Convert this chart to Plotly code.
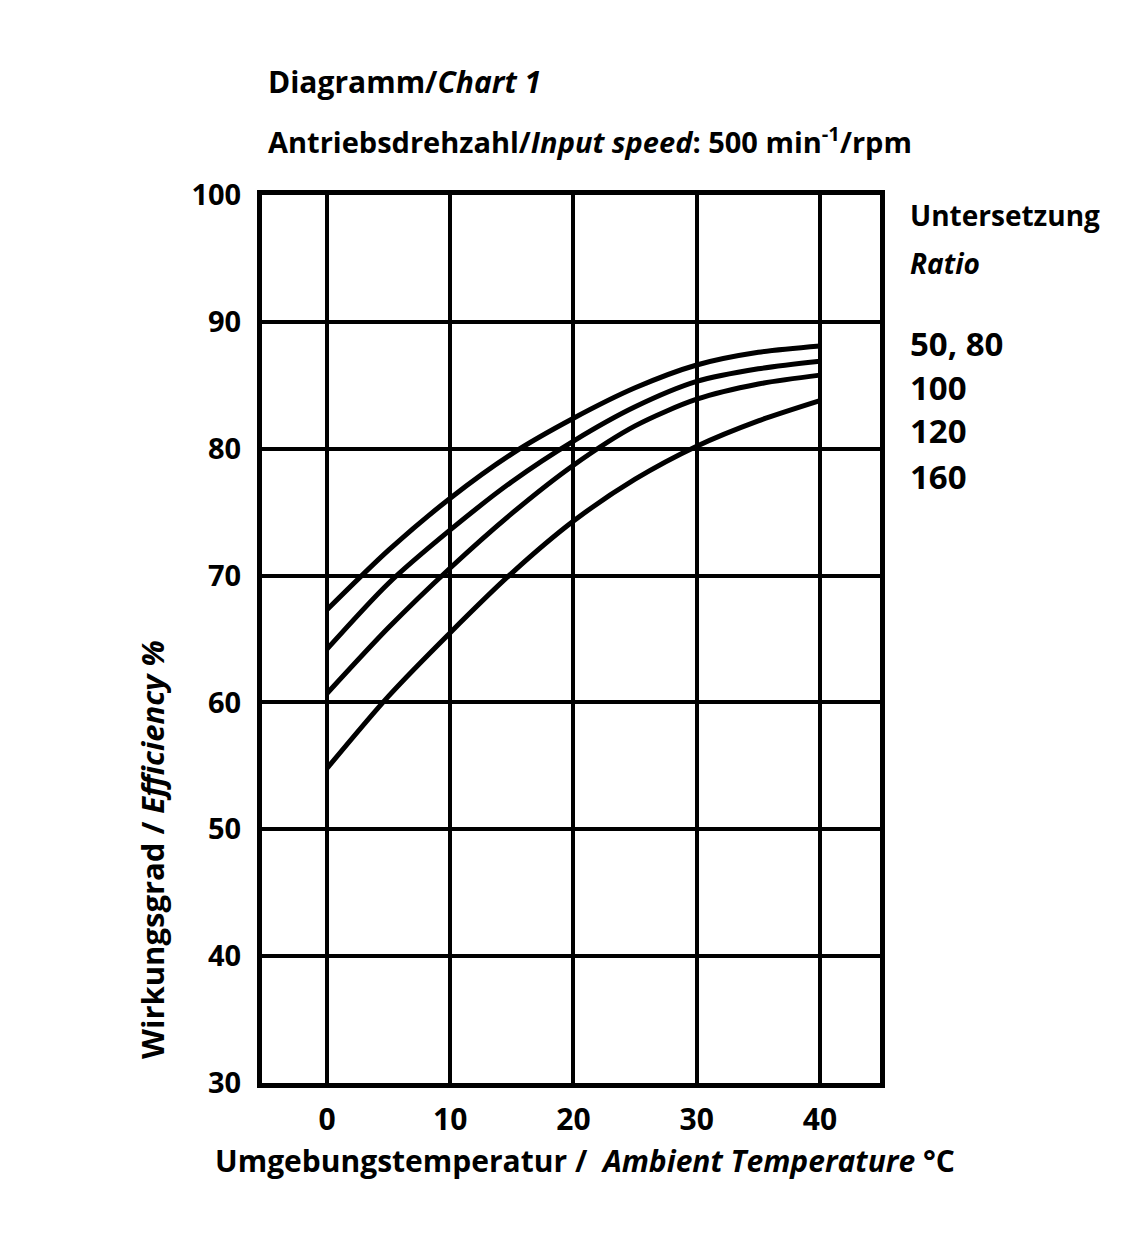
import plotly.graph_objects as go

# Data
temps = [0, 5, 10, 15, 20, 25, 30, 35, 40]
ratio_labels = ["50, 80", "100", "120", "160"]
eff_50_80 = [67.3, 72.0, 76.1, 79.6, 82.4, 84.8, 86.6, 87.6, 88.1]
eff_100 = [64.2, 69.4, 73.6, 77.4, 80.6, 83.3, 85.3, 86.3, 86.9]
eff_120 = [60.7, 65.9, 70.6, 74.9, 78.7, 81.8, 83.9, 85.1, 85.8]
eff_160 = [54.8, 60.5, 65.5, 70.2, 74.3, 77.6, 80.2, 82.2, 83.8]
series = [eff_50_80, eff_100, eff_120, eff_160]

x_ticks = [0, 10, 20, 30, 40]
y_ticks = [30, 40, 50, 60, 70, 80, 90, 100]

FONT = "Open Sans"

fig = go.Figure()
for lab, vals in zip(ratio_labels, series):
    fig.add_trace(go.Scatter(x=temps, y=vals, mode="lines", name=lab,
                             line=dict(color="black", width=5, shape="spline", smoothing=0.8),
                             showlegend=False))

L, R, T, B = 262, 880, 195, 1083
W, H = 1139, 1251

def px(x):
    return (x - L) / (R - L)

def py(y):
    return (B - y) / (B - T)

fig.update_layout(
    width=W, height=H,
    margin=dict(l=L, r=W - R, t=T, b=H - B, pad=0),
    paper_bgcolor="white", plot_bgcolor="white",
    font=dict(family=FONT, color="black", size=26, weight=700),
    xaxis=dict(range=[-5.27, 44.87], tickvals=x_ticks, ticktext=[str(v) for v in x_ticks],
               showgrid=True, gridcolor="black", gridwidth=4,
               showline=True, linecolor="black", linewidth=5, mirror=True,
               zeroline=False, ticks="", ticklabelstandoff=6,
               tickfont=dict(family=FONT, size=30, weight=700)),
    yaxis=dict(range=[30, 100], tickvals=y_ticks, ticktext=[str(v) for v in y_ticks],
               showgrid=True, gridcolor="black", gridwidth=4,
               showline=True, linecolor="black", linewidth=5, mirror=True,
               zeroline=False, ticks="", ticklabelstandoff=10,
               tickfont=dict(family=FONT, size=29, weight=700)),
)

ann = []
def add(text, x, y, size=26, xanchor="left", angle=0):
    ann.append(dict(text=text, x=x, y=y, xref="paper", yref="paper",
                    xanchor=xanchor, yanchor="middle", showarrow=False,
                    textangle=angle, font=dict(family=FONT, size=size, weight=700, color="black")))

add("Diagramm/<i>Chart 1</i>", px(266), py(82), size=30)
add("Antriebsdrehzahl/<i>Input speed</i>: 500 min<sup>-1</sup>/rpm", px(266), py(140), size=29)
add("Untersetzung", px(908), py(215), size=28)
add("<i>Ratio</i>", px(908), py(263), size=28)
legend_y = [343, 387, 430, 476]
for lab, yy in zip(ratio_labels, legend_y):
    add(lab, px(908), py(yy), size=33)
add("Wirkungsgrad / <i>Efficiency %</i>", px(152), py(850), size=31, xanchor="center", angle=-90)
add("Umgebungstemperatur /  <i>Ambient Temperature</i> °C", px(585), py(1160), size=30, xanchor="center")

fig.update_layout(annotations=ann)
fig.write_html("out.html")
